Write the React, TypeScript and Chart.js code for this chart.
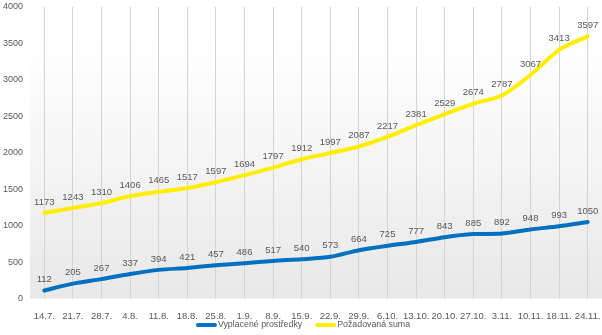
import React, { useEffect, useRef } from "react";
import { Chart, registerables } from "chart.js";

Chart.register(...registerables);

const categories = ["14.7.", "21.7.", "28.7.", "4.8.", "11.8.", "18.8.", "25.8.", "1.9.", "8.9.", "15.9.", "22.9.", "29.9.", "6.10.", "13.10.", "20.10.", "27.10.", "3.11.", "10.11.", "18.11.", "24.11."];
const vyplacene = [112, 205, 267, 337, 394, 421, 457, 486, 517, 540, 573, 664, 725, 777, 843, 885, 892, 948, 993, 1050];
const pozadovana = [1173, 1243, 1310, 1406, 1465, 1517, 1597, 1694, 1797, 1912, 1997, 2087, 2217, 2381, 2529, 2674, 2787, 3067, 3413, 3597];
const seriesNames = ["Vyplacené prostředky", "Požadovaná suma"];
const seriesColors = ["#0070c0", "#ffee00"];

const FONT = "'Liberation Sans', Arial, sans-serif";
const TEXT = "#595959";

const bgPlugin = {
  id: "bgGradient",
  beforeDraw(chart: any) {
    const { ctx, chartArea } = chart;
    if (!chartArea) return;
    const g = ctx.createLinearGradient(0, chartArea.top, 0, chartArea.bottom);
    g.addColorStop(0, "#ffffff");
    g.addColorStop(0.17, "#fefefe");
    g.addColorStop(1, "#e8e8e8");
    ctx.save();
    ctx.fillStyle = g;
    ctx.fillRect(chartArea.left, chartArea.top, chartArea.right - chartArea.left, chartArea.bottom - chartArea.top);
    ctx.restore();
  },
};

const labelPlugin = {
  id: "pointLabels",
  afterDatasetsDraw(chart: any) {
    const { ctx } = chart;
    ctx.save();
    ctx.font = `9.5px ${FONT}`;
    ctx.fillStyle = TEXT;
    ctx.textAlign = "center";
    ctx.textBaseline = "middle";
    chart.data.datasets.forEach((ds: any, i: number) => {
      const meta = chart.getDatasetMeta(i);
      meta.data.forEach((pt: any, j: number) => {
        ctx.fillText(String(ds.data[j]), pt.x, pt.y - 11);
      });
    });
    ctx.restore();
  },
};

const legendPlugin = {
  id: "customLegend",
  afterDraw(chart: any) {
    const { ctx, width } = chart;
    ctx.save();
    ctx.font = `8.8px ${FONT}`;
    const box = 21;
    const gap = 1;
    const spacing = 13;
    const items = chart.data.datasets.map((ds: any) => ({
      label: ds.label,
      color: ds.borderColor,
      w: box + gap + ctx.measureText(ds.label).width,
    }));
    const total = items.reduce((s: number, it: any) => s + it.w, 0) + spacing * (items.length - 1);
    let x = (width - total) / 2 + 2;
    const y = 325;
    items.forEach((it: any) => {
      ctx.strokeStyle = it.color;
      ctx.lineWidth = 4;
      ctx.lineCap = "round";
      ctx.beginPath();
      ctx.moveTo(x + 2, y);
      ctx.lineTo(x + box - 2, y);
      ctx.stroke();
      ctx.fillStyle = TEXT;
      ctx.textAlign = "left";
      ctx.textBaseline = "middle";
      ctx.fillText(it.label, x + box + gap, y);
      x += it.w + spacing;
    });
    ctx.restore();
  },
};

export default function App() {
  const ref = useRef<HTMLCanvasElement>(null);
  useEffect(() => {
    document.body.style.margin = "0";
    const chart = new Chart(ref.current!, {
      type: "line",
      data: {
        labels: categories,
        datasets: seriesNames.map((name, i) => ({
          label: name,
          data: i === 0 ? vyplacene : pozadovana,
          borderColor: seriesColors[i],
          backgroundColor: seriesColors[i],
          borderWidth: 4,
          pointRadius: 0,
          tension: 0.25,
          borderCapStyle: "round",
        })),
      },
      options: {
        animation: false,
        responsive: false,
        layout: { padding: { top: 7, right: 0, left: 0, bottom: 1 } },
        plugins: {
          legend: { display: false },
          tooltip: { enabled: false },
        },
        scales: {
          x: {
            offset: true,
            grid: { display: true, color: "#d4d4d4", offset: false, drawTicks: false },
            border: { display: false },
            afterFit: (scale: any) => { scale.paddingLeft = 0; scale.paddingRight = 0; },
            ticks: { font: { family: FONT, size: 9.5 }, color: TEXT, padding: 12, maxRotation: 0, autoSkip: false },
          },
          y: {
            min: 0,
            max: 4000,
            grid: { display: false, drawTicks: false },
            border: { display: false },
            afterFit: (scale: any) => { scale.width = 30; scale.paddingTop = 0; },
            ticks: {
              stepSize: 500,
              font: { family: FONT, size: 9 },
              color: TEXT,
              padding: 7,
              callback: (v: any) => String(v),
            },
          },
        },
      },
      plugins: [bgPlugin, labelPlugin, legendPlugin],
    });
    return () => chart.destroy();
  }, []);
  return <canvas ref={ref} width={602} height={335} style={{ display: "block", width: 602, height: 335 }} />;
}
